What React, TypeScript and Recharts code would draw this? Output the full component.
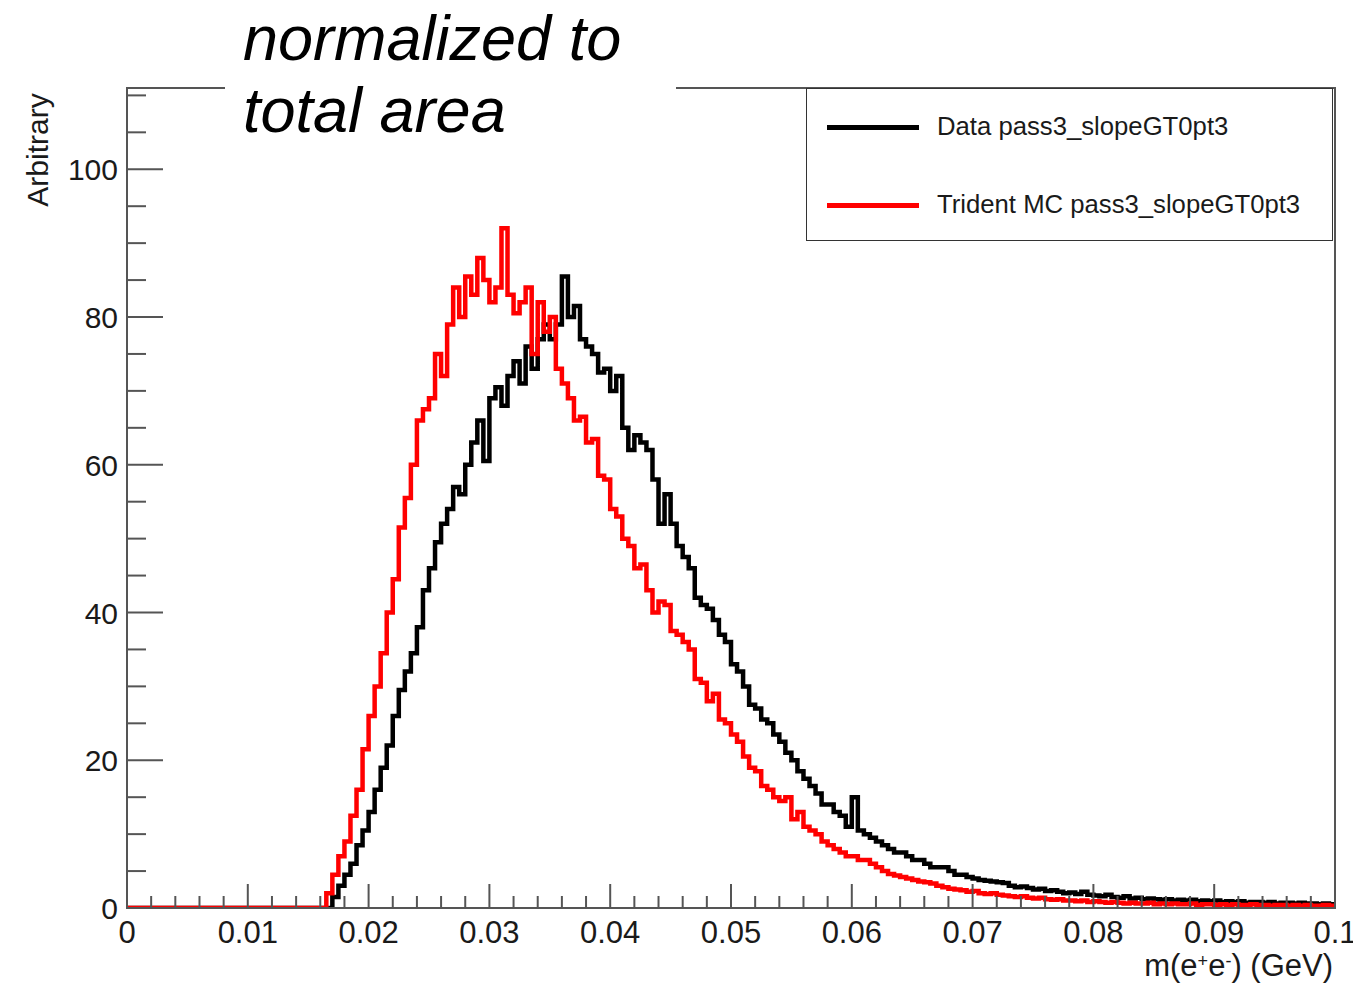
import React from 'react';
import { LineChart, Line, XAxis, YAxis, ReferenceArea, Legend } from 'recharts';

const FONT = '"Liberation Sans", Arial, Helvetica, sans-serif';
const AXIS_COLOR = '#555555';
const TEXT_COLOR = '#1a1a1a';

// Histogram binning: 200 bins of 0.0005 GeV from 0 to 0.1 GeV
const BIN_WIDTH = 0.0005;

const seriesNames = ['Data pass3_slopeGT0pt3', 'Trident MC pass3_slopeGT0pt3'];
const seriesColors = ['#000000', '#ff0000'];

// Data histogram (bins starting at 0.000, step 0.0005)
const dataCounts = [
  // 0.000 - 0.0155
  0, 0, 0, 0, 0, 0, 0, 0, 0, 0,
  0, 0, 0, 0, 0, 0, 0, 0, 0, 0,
  0, 0, 0, 0, 0, 0, 0, 0, 0, 0,
  0, 0,
  // 0.0160 - 0.0205
  0, 0, 1.5, 3, 4.5, 6, 8.5, 10.5, 13, 16,
  // 0.0210 - 0.0255
  19, 22, 26, 29.5, 32, 34.5, 38, 43, 46, 49.5,
  // 0.0260 - 0.0305
  52, 54, 57, 56, 60, 63, 66, 60.5, 69, 70.5,
  // 0.0310 - 0.0355
  68, 72, 74, 71, 76, 73, 77, 79, 77, 79,
  // 0.0360 - 0.0405
  85.5, 80, 81.5, 77, 76, 75, 72.5, 73, 70, 72,
  // 0.0410 - 0.0455
  65, 62, 64, 63, 62, 58, 52, 56, 52, 49,
  // 0.0460 - 0.0505
  47.5, 46, 42, 41, 40.5, 39, 37, 36, 33, 32,
  // 0.0510 - 0.0555
  30, 27.5, 27, 25.5, 25, 23.5, 22.5, 21, 20, 18.5,
  // 0.0560 - 0.0605
  17.5, 16.5, 15.5, 14, 14, 13, 12.5, 11, 15, 10.5,
  // 0.0610 - 0.0655
  10, 9.5, 9, 8.5, 8, 7.5, 7.5, 7, 6.5, 6.5,
  // 0.0660 - 0.0705
  6, 5.5, 5.5, 5.5, 5, 4.5, 4.5, 4.2, 4, 3.8,
  // 0.0710 - 0.0755
  3.7, 3.6, 3.5, 3.4, 3, 2.8, 2.9, 2.7, 2.5, 2.6,
  // 0.0760 - 0.0805
  2.3, 2.4, 2.2, 2, 2.1, 1.9, 2.2, 1.8, 1.7, 1.6,
  // 0.0810 - 0.0855
  1.8, 1.5, 1.4, 1.6, 1.3, 1.4, 1.2, 1.3, 1.2, 1.1,
  // 0.0860 - 0.0905
  1.2, 1.0, 1.1, 1.0, 1.1, 0.9, 1.0, 0.9, 1.0, 0.8,
  // 0.0910 - 0.0955
  0.9, 0.8, 0.9, 0.7, 0.8, 0.8, 0.7, 0.8, 0.6, 0.7,
  // 0.0960 - 0.0995
  0.7, 0.6, 0.7, 0.6, 0.6, 0.5, 0.6, 0.5,
];

// Trident MC histogram (same binning)
const mcCounts = [
  // 0.000 - 0.0155
  0, 0, 0, 0, 0, 0, 0, 0, 0, 0,
  0, 0, 0, 0, 0, 0, 0, 0, 0, 0,
  0, 0, 0, 0, 0, 0, 0, 0, 0, 0,
  0, 0,
  // 0.0160 - 0.0205
  0, 2, 4.5, 7, 9, 12.5, 16, 21.5, 26, 30,
  // 0.0210 - 0.0255
  34.5, 40, 44.5, 51.5, 55.5, 60, 66, 67.5, 69, 75,
  // 0.0260 - 0.0305
  72, 79, 84, 80, 85.5, 83, 88, 85, 82, 84,
  // 0.0310 - 0.0355
  92, 83, 80.5, 82, 84, 75, 82, 78, 80, 73,
  // 0.0360 - 0.0405
  71, 69, 66, 66.5, 63, 63.5, 58.5, 58, 54, 53,
  // 0.0410 - 0.0455
  50, 49, 46, 46.5, 43, 40, 41.5, 41, 37.5, 37,
  // 0.0460 - 0.0505
  36, 35, 31, 30.5, 28, 29, 25.5, 25, 23.5, 22.5,
  // 0.0510 - 0.0555
  20.5, 19, 18.5, 16.5, 16, 15, 14.5, 15, 12, 13,
  // 0.0560 - 0.0605
  11, 10.5, 10, 9, 8.5, 8, 7.5, 7, 7, 6.5,
  // 0.0610 - 0.0655
  6.5, 6, 5.5, 5, 4.6, 4.4, 4.2, 4, 3.8, 3.6,
  // 0.0660 - 0.0705
  3.5, 3.3, 3, 2.8, 2.6, 2.5, 2.4, 2.2, 2.3, 2,
  // 0.0710 - 0.0755
  1.9, 2, 1.8, 1.7, 1.6, 1.5, 1.6, 1.4, 1.3, 1.4,
  // 0.0760 - 0.0805
  1.2, 1.1, 1.2, 1.0, 1.0, 0.9, 1.0, 0.8, 0.9, 0.8,
  // 0.0810 - 0.0855
  0.7, 0.8, 0.7, 0.6, 0.7, 0.6, 0.6, 0.7, 0.5, 0.6,
  // 0.0860 - 0.0905
  0.5, 0.6, 0.5, 0.5, 0.6, 0.4, 0.5, 0.5, 0.4, 0.5,
  // 0.0910 - 0.0955
  0.4, 0.5, 0.4, 0.4, 0.5, 0.4, 0.4, 0.3, 0.4, 0.4,
  // 0.0960 - 0.0995
  0.3, 0.4, 0.3, 0.4, 0.3, 0.3, 0.4, 0.3,
];

const xTickLabels = ['0', '0.01', '0.02', '0.03', '0.04', '0.05', '0.06', '0.07', '0.08', '0.09', '0.1'];
const yTickLabels = ['0', '20', '40', '60', '80', '100'];

const X_MAX = 0.1;
const Y_MAX = 111;

// tick positions (minor every 0.002 / every 5)
const xTicks = Array.from({ length: 51 }, (_, i) => +(i * 0.002).toFixed(3));
const yTicks = Array.from({ length: 23 }, (_, i) => i * 5);

const nBins = dataCounts.length;
const chartData = Array.from({ length: nBins + 1 }, (_, i) => {
  const b = Math.min(i, nBins - 1);
  return { x: +(i * BIN_WIDTH).toFixed(4), data: dataCounts[b], mc: mcCounts[b] };
});

const XTick = (props: any) => {
  const { x, y, payload } = props;
  const idx = Math.round(payload.value / 0.002);
  const major = idx % 5 === 0;
  return (
    <g>
      <line x1={x} x2={x} y1={y} y2={y - (major ? 24 : 12)} stroke={AXIS_COLOR} strokeWidth={2} />
      {major && (
        <text x={x} y={y + 35} textAnchor="middle" fontSize={31} fontFamily={FONT} fill={TEXT_COLOR}>
          {xTickLabels[idx / 5]}
        </text>
      )}
    </g>
  );
};

const YTick = (props: any) => {
  const { x, y, payload } = props;
  const v = Math.round(payload.value);
  const major = v % 20 === 0;
  return (
    <g>
      <line x1={x} x2={x + (major ? 36 : 19)} y1={y} y2={y} stroke={AXIS_COLOR} strokeWidth={2} />
      {major && (
        <text x={x - 9} y={y + 11} textAnchor="end" fontSize={30} fontFamily={FONT} fill={TEXT_COLOR}>
          {yTickLabels[v / 20]}
        </text>
      )}
    </g>
  );
};

const XTitle = (props: any) => {
  const vb = props.viewBox || { x: 127, y: 908, width: 1208 };
  return (
    <text x={vb.x + vb.width - 2} y={vb.y + 68} textAnchor="end" fontSize={31} fontFamily={FONT} fill={TEXT_COLOR}>
      m(e<tspan dy={-9} fontSize={18}>+</tspan>
      <tspan dy={9}>e</tspan>
      <tspan dy={-9} fontSize={18}>-</tspan>
      <tspan dy={9}>) (GeV)</tspan>
    </text>
  );
};

const YTitle = (props: any) => {
  const vb = props.viewBox || { x: 67, y: 88, width: 60 };
  const cx = vb.x + vb.width - 79;
  const cy = vb.y + 62;
  return (
    <text
      x={cx}
      y={cy}
      transform={`rotate(-90 ${cx} ${cy})`}
      textAnchor="middle"
      fontSize={30}
      fontFamily={FONT}
      fill={TEXT_COLOR}
    >
      Arbitrary
    </text>
  );
};

const LegendBox = (props: any) => {
  const payload = props.payload || [];
  return (
    <div
      style={{
        position: 'relative',
        width: 527,
        height: 153,
        border: '1.5px solid #333',
        boxSizing: 'border-box',
        background: '#fff',
        fontFamily: FONT,
        fontSize: 25.7,
        color: TEXT_COLOR,
      }}
    >
      {payload.map((entry: any, i: number) => (
        <div
          key={i}
          style={{
            position: 'absolute',
            left: 0,
            top: i === 0 ? 38 : 116,
            height: 0,
            width: '100%',
          }}
        >
          <div
            style={{
              position: 'absolute',
              left: 20,
              top: -2,
              width: 92,
              height: 5,
              background: entry.color,
            }}
          />
          <div
            style={{
              position: 'absolute',
              left: 130,
              top: -16,
              lineHeight: '30px',
              whiteSpace: 'nowrap',
            }}
          >
            {entry.value}
          </div>
        </div>
      ))}
    </div>
  );
};

export default function App() {
  return (
    <div style={{ position: 'absolute', left: 0, top: 0, width: 1353, height: 983, background: '#fff' }}>
      <LineChart
        width={1353}
        height={983}
        data={chartData}
        margin={{ top: 88, right: 18, bottom: 35, left: 67 }}
      >
        <ReferenceArea
          x1={0}
          x2={X_MAX}
          y1={0}
          y2={Y_MAX}
          fill="none"
          fillOpacity={0}
          stroke={AXIS_COLOR}
          strokeWidth={2}
        />
        <XAxis
          dataKey="x"
          type="number"
          domain={[0, X_MAX]}
          ticks={xTicks}
          interval={0}
          height={40}
          tickSize={0}
          tickMargin={0}
          tickLine={false}
          axisLine={{ stroke: AXIS_COLOR, strokeWidth: 2 }}
          tick={XTick}
          allowDataOverflow
          label={{ content: XTitle }}
        />
        <YAxis
          type="number"
          domain={[0, Y_MAX]}
          ticks={yTicks}
          interval={0}
          width={60}
          tickSize={0}
          tickMargin={0}
          tickLine={false}
          axisLine={{ stroke: AXIS_COLOR, strokeWidth: 2 }}
          tick={YTick}
          allowDataOverflow
          label={{ content: YTitle }}
        />
        <Legend
          layout="horizontal"
          verticalAlign="middle"
          align="center"
          content={LegendBox}
          wrapperStyle={{ left: 806, top: 88, width: 527, height: 153 }}
        />
        <Line
          type="stepAfter"
          dataKey="data"
          name={seriesNames[0]}
          stroke={seriesColors[0]}
          strokeWidth={4.5}
          strokeLinejoin="miter"
          dot={false}
          activeDot={false}
          isAnimationActive={false}
        />
        <Line
          type="stepAfter"
          dataKey="mc"
          name={seriesNames[1]}
          stroke={seriesColors[1]}
          strokeWidth={4.5}
          strokeLinejoin="miter"
          dot={false}
          activeDot={false}
          isAnimationActive={false}
        />
      </LineChart>
      <div
        style={{
          position: 'absolute',
          left: 225,
          top: 0,
          width: 451,
          height: 146,
          background: '#fff',
          paddingLeft: 18,
          paddingTop: 2,
          boxSizing: 'border-box',
          fontFamily: FONT,
          fontStyle: 'italic',
          fontSize: 63,
          lineHeight: '72px',
          color: '#000',
          whiteSpace: 'nowrap',
        }}
      >
        <div>normalized to</div>
        <div>total area</div>
      </div>
    </div>
  );
}
